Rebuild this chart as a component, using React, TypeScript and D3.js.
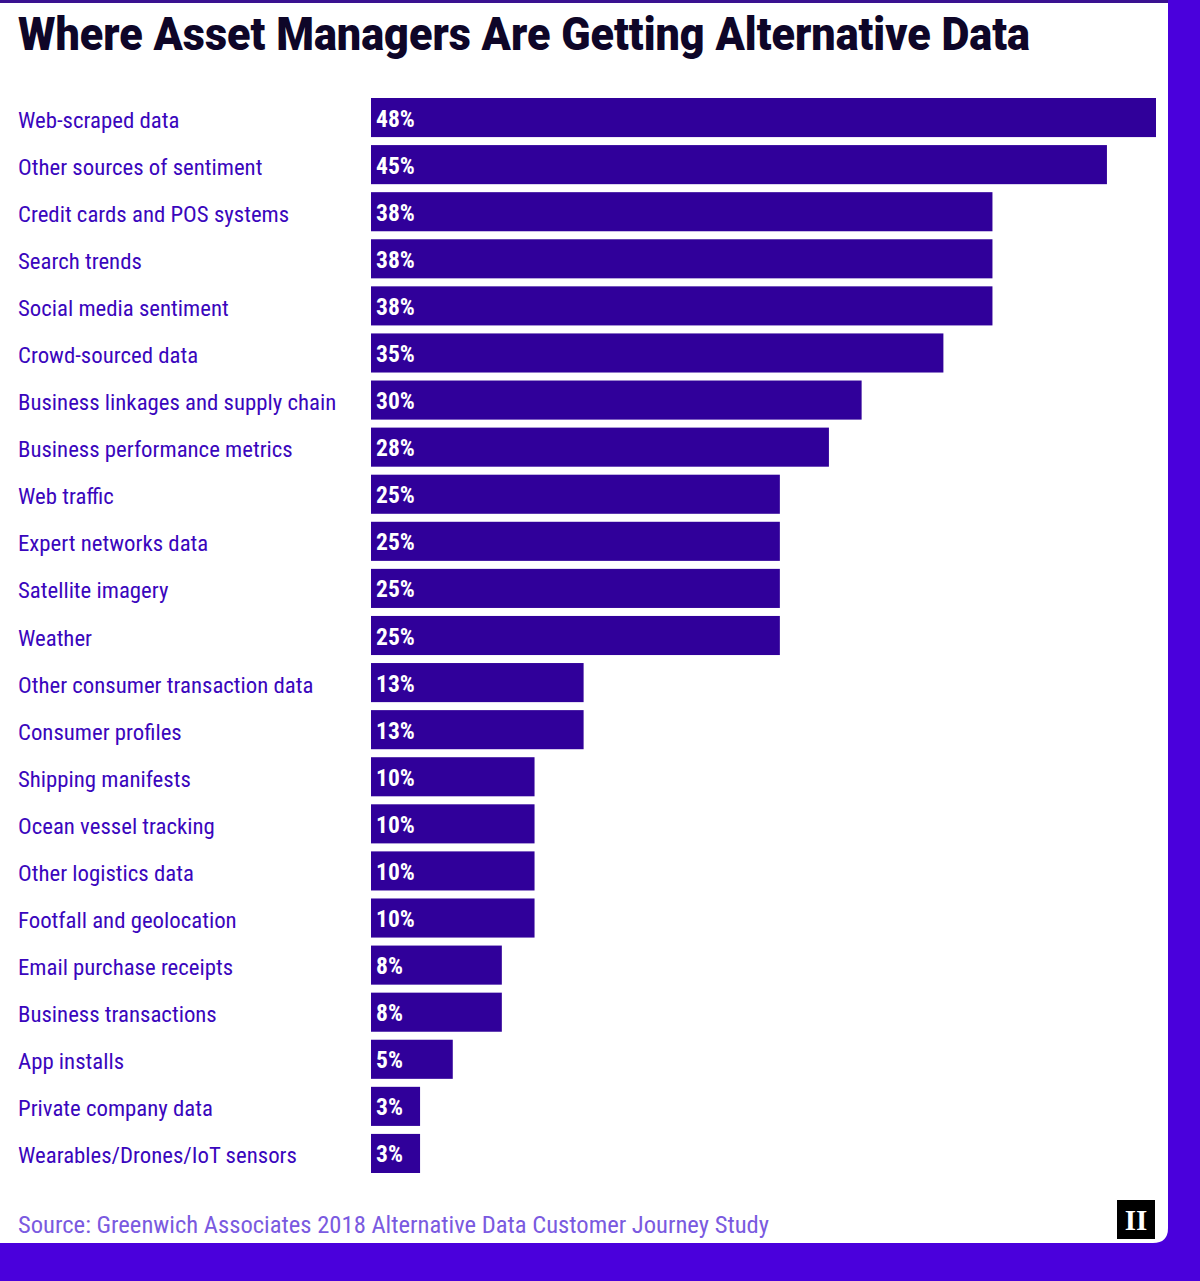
import React from "react";
import * as d3 from "d3";

const categories = [
  "Web-scraped data",
  "Other sources of sentiment",
  "Credit cards and POS systems",
  "Search trends",
  "Social media sentiment",
  "Crowd-sourced data",
  "Business linkages and supply chain",
  "Business performance metrics",
  "Web traffic",
  "Expert networks data",
  "Satellite imagery",
  "Weather",
  "Other consumer transaction data",
  "Consumer profiles",
  "Shipping manifests",
  "Ocean vessel tracking",
  "Other logistics data",
  "Footfall and geolocation",
  "Email purchase receipts",
  "Business transactions",
  "App installs",
  "Private company data",
  "Wearables/Drones/IoT sensors",
];
const values = [48, 45, 38, 38, 38, 35, 30, 28, 25, 25, 25, 25, 13, 13, 10, 10, 10, 10, 8, 8, 5, 3, 3];
const title = "Where Asset Managers Are Getting Alternative Data";
const source = "Source: Greenwich Associates 2018 Alternative Data Customer Journey Study";

const W = 1200;
const H = 1281;
const FONT = "'Liberation Sans Narrow', 'Roboto Condensed', 'DejaVu Sans Condensed', Roboto, sans-serif";

export default function App() {
  const x = d3.scaleLinear().domain([0, 48]).range([371, 1156]);
  const y = d3
    .scaleBand<string>()
    .domain(categories)
    .range([98 - 4, 1173 + 4])
    .paddingInner(8 / 47.09)
    .paddingOuter(4 / 47.09);
  const bw = y.bandwidth();

  return (
    <svg
      width={W}
      height={H}
      style={{ position: "absolute", left: 0, top: 0, display: "block" }}
    >
      <rect x={0} y={0} width={W} height={H} fill="#4a00dc" />
      <rect x={0} y={0} width={1168} height={3} fill="#3a1190" />
      <path
        d={`M0,3 H1168 V1228 Q1168,1243 1153,1243 H0 Z`}
        fill="#ffffff"
      />
      <text
        x={18}
        y={50}
        fontFamily="Roboto, sans-serif"
        fontWeight={900}
        fontSize={47}
        fill="#0e0628"
        textLength={1012}
        lengthAdjust="spacingAndGlyphs"
      >
        {title}
      </text>
      {categories.map((c, i) => {
        const yy = y(c)!;
        return (
          <g key={c}>
            <text
              x={18}
              y={yy + bw / 2 + 10}
              fontFamily={FONT}
              fontSize={22.8}
              fill="#3a06bd"
            >
              {c}
            </text>
            <rect x={x(0)} y={yy} width={x(values[i]) - x(0)} height={bw} fill="#30009a" />
            <text
              x={x(0) + 5}
              y={yy + bw / 2 + 9}
              fontFamily={FONT}
              fontWeight={700}
              fontSize={23.5}
              fill="#ffffff"
            >
              {values[i]}%
            </text>
          </g>
        );
      })}
      <text
        x={18}
        y={1233}
        fontFamily={FONT}
        fontSize={23}
        fill="#7a5ae0"
        textLength={751}
        lengthAdjust="spacingAndGlyphs"
      >
        {source}
      </text>
      <rect x={1117} y={1200} width={38} height={39} fill="#000000" />
      <text
        x={1136}
        y={1230}
        textAnchor="middle"
        fontFamily="'Liberation Serif', 'DejaVu Serif', serif"
        fontWeight={700}
        fontSize={29}
        fill="#ffffff"
      >
        II
      </text>
    </svg>
  );
}
